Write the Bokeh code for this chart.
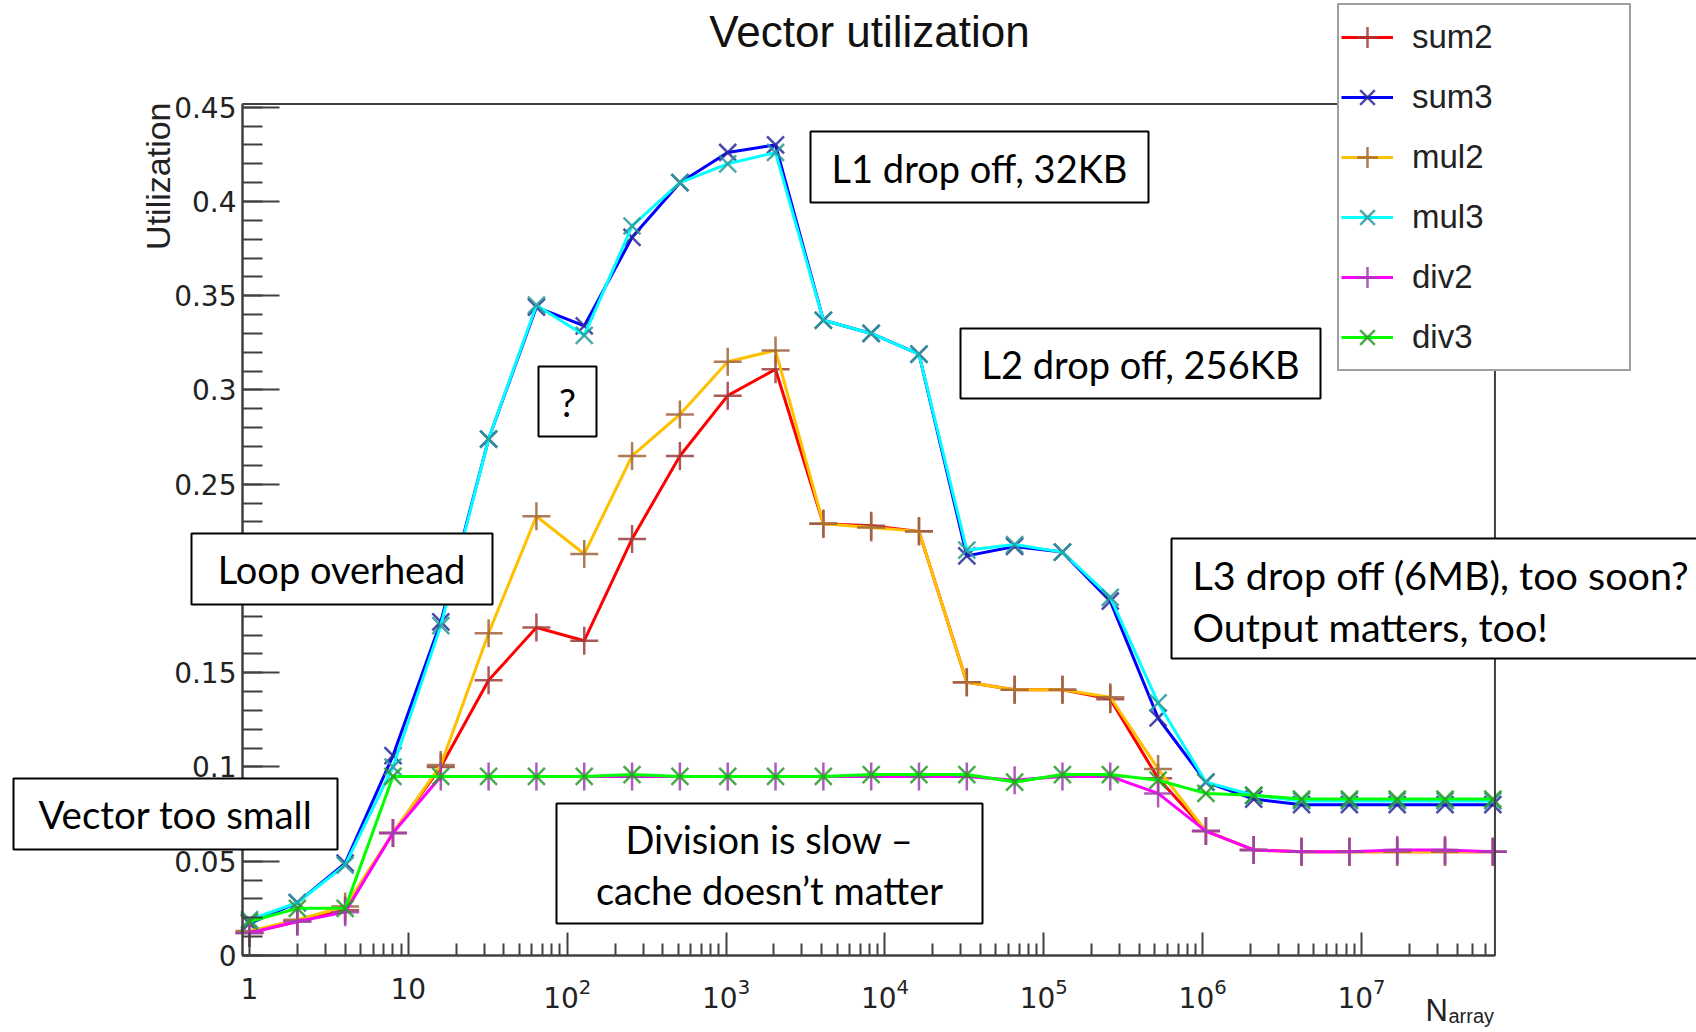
from bokeh.plotting import figure
from bokeh.models import (Range1d, FixedTicker, NumeralTickFormatter, LogTickFormatter,
                          Label, BoxAnnotation, Legend, LegendItem)
from bokeh.embed import file_html
from bokeh.resources import INLINE

# ---------------- data ----------------
n_array = [1, 2, 4, 8, 16, 32, 64, 128, 256, 512, 1024, 2048, 4096, 8192, 16384,
           32768, 65536, 131072, 262144, 524288, 1048576, 2097152, 4194304,
           8388608, 16777216, 33554432, 67108864]

sum2 = [0.012, 0.018, 0.024, 0.065, 0.100, 0.146, 0.174, 0.167, 0.221, 0.265, 0.297, 0.311,
        0.229, 0.228, 0.225, 0.145, 0.141, 0.141, 0.136, 0.094, 0.066, 0.056, 0.055, 0.055,
        0.055, 0.055, 0.055]
sum3 = [0.017, 0.028, 0.049, 0.106, 0.177, 0.274, 0.344, 0.334, 0.381, 0.410, 0.426, 0.430,
        0.337, 0.330, 0.319, 0.212, 0.217, 0.214, 0.188, 0.126, 0.092, 0.083, 0.080, 0.080,
        0.080, 0.080, 0.080]
mul2 = [0.013, 0.019, 0.026, 0.065, 0.101, 0.171, 0.233, 0.213, 0.265, 0.287, 0.315, 0.321,
        0.229, 0.227, 0.225, 0.145, 0.141, 0.141, 0.137, 0.099, 0.066, 0.056, 0.055, 0.055,
        0.055, 0.055, 0.055]
mul3 = [0.019, 0.028, 0.048, 0.100, 0.175, 0.274, 0.345, 0.329, 0.387, 0.410, 0.420, 0.426,
        0.337, 0.330, 0.319, 0.215, 0.218, 0.214, 0.190, 0.134, 0.092, 0.085, 0.082, 0.082,
        0.082, 0.082, 0.082]
div2 = [0.012, 0.018, 0.023, 0.065, 0.095, 0.095, 0.095, 0.095, 0.095, 0.095, 0.095, 0.095,
        0.095, 0.095, 0.095, 0.095, 0.093, 0.095, 0.095, 0.086, 0.066, 0.056, 0.055, 0.055,
        0.056, 0.056, 0.055]
div3 = [0.018, 0.025, 0.025, 0.095, 0.095, 0.095, 0.095, 0.095, 0.096, 0.095, 0.095, 0.095,
        0.095, 0.096, 0.096, 0.096, 0.092, 0.096, 0.096, 0.093, 0.086, 0.085, 0.083, 0.083,
        0.083, 0.083, 0.083]

series_names = ["sum2", "sum3", "mul2", "mul3", "div2", "div3"]
series_values = [sum2, sum3, mul2, mul3, div2, div3]

y_major_ticks = [0, 0.05, 0.1, 0.15, 0.2, 0.25, 0.3, 0.35, 0.4, 0.45]
y_minor_ticks = [i / 100 for i in range(46)]
x_major_ticks = [1, 10, 100, 1000, 10000, 100000, 1000000, 10000000]
x_minor_ticks = [m * d for d in x_major_ticks for m in range(2, 10) if m * d < 7e7]

# axis extent of the ROOT frame (data units)
x_lo, x_hi = 0.9035, 6.92e7
y_lo, y_hi = 0.0, 0.4517

# ---------------- styles ----------------
line_colors = ["#ff0000", "#0000ff", "#ffc000", "#00ffff", "#ff00ff", "#00ff00"]
marker_colors = ["#a03c3c", "#2a2a9a", "#a0643c", "#2a9a9a", "#a040b0", "#2a9a2a"]
marker_types = ["cross", "x", "cross", "x", "cross", "x"]
marker_sizes = [28, 24, 28, 24, 28, 24]

AX = "Liberation Sans"
TICK = "DejaVu Sans"
NOTE = "Lato"
FRAME = "#404040"

W, H = 1696, 1032
# the plotting frame covers the whole canvas; the ROOT-like axes sit at fixed locations
p = figure(width=W, height=H, x_axis_type="log",
           x_range=Range1d(10 ** (-1.56745), 10 ** 9.10882),
           y_range=Range1d(-0.040849, 0.50663),
           output_backend="svg", toolbar_location=None,
           min_border_left=0, min_border_right=0, min_border_top=0, min_border_bottom=0)
p.title.visible = False
p.background_fill_color = "white"
p.border_fill_color = "white"
p.grid.visible = False
p.outline_line_color = None

yax = p.yaxis[0]
yax.fixed_location = x_lo
yax.bounds = (y_lo, y_hi)
yax.ticker = FixedTicker(ticks=y_major_ticks, minor_ticks=y_minor_ticks)
yax.formatter = NumeralTickFormatter(format="0.[00]")
yax.major_tick_in = 37
yax.major_tick_out = 0
yax.minor_tick_in = 20
yax.minor_tick_out = 0
yax.major_label_standoff = 6

xax = p.xaxis[0]
xax.fixed_location = y_lo
xax.bounds = (x_lo, x_hi)
xax.ticker = FixedTicker(ticks=x_major_ticks, minor_ticks=x_minor_ticks)
xax.formatter = LogTickFormatter(min_exponent=1)
xax.major_label_overrides = {1: "1", 10: "10"}
xax.major_tick_in = 23
xax.major_tick_out = 0
xax.minor_tick_in = 12
xax.minor_tick_out = 0
xax.major_label_standoff = 23

for ax in (xax, yax):
    ax.axis_line_color = FRAME
    ax.axis_line_width = 2
    ax.major_tick_line_color = FRAME
    ax.major_tick_line_width = 2
    ax.minor_tick_line_color = FRAME
    ax.minor_tick_line_width = 2
    ax.major_label_text_font = TICK
    ax.major_label_text_font_size = "28px"
    ax.major_label_text_color = "#222222"

items = []
for name, vals, lc, mc, mk, ms in zip(series_names, series_values, line_colors,
                                      marker_colors, marker_types, marker_sizes):
    lr = p.line(n_array, vals, line_color=lc, line_width=3)
    sr = p.scatter(n_array, vals, marker=mk, size=ms, line_color=mc, line_width=2.5,
                   line_alpha=0.85, fill_color=None)
    items.append(LegendItem(label=name, renderers=[lr, sr]))

# ROOT frame box (top and right edges)
p.add_layout(BoxAnnotation(left=x_lo, right=x_hi, bottom=y_lo, top=y_hi,
                           fill_alpha=0, line_color=FRAME, line_width=2, line_alpha=1.0))

# positions below are pixels of the 1696x1032 page, turned into canvas pixels
def fx(x):
    return x

def fy(y):
    return H - y

boxes = [(810, 131, 1148, 202), (960, 328, 1320, 398), (538, 366, 596, 436),
         (191, 533, 492, 604), (1171, 538, 1720, 658), (13, 778, 337, 849),
         (556, 803, 982, 923)]
for (l, t, r, b) in boxes:
    p.add_layout(BoxAnnotation(left=fx(l), right=fx(r), top=fy(t), bottom=fy(b),
                               left_units="screen", right_units="screen",
                               top_units="screen", bottom_units="screen",
                               fill_color="white", fill_alpha=1.0,
                               line_color="black", line_width=2, line_alpha=1.0))

notes = [("L1 drop off, 32KB", 979, 167, "center", 38),
         ("L2 drop off, 256KB", 1140, 363, "center", 38),
         ("?", 567, 401, "center", 38),
         ("Loop overhead", 341, 568, "center", 38),
         ("L3 drop off (6MB), too soon?", 1192, 574, "left", 39.5),
         ("Output matters, too!", 1192, 626, "left", 39.5),
         ("Vector too small", 175, 813, "center", 38.5),
         ("Division is slow \u2013", 769, 838, "center", 38),
         ("cache doesn\u2019t matter", 769, 889, "center", 38)]
for text, x, y, al, fs in notes:
    p.add_layout(Label(x=fx(x), y=fy(y), x_units="screen", y_units="screen", text=text,
                       text_align=al, text_baseline="middle", text_font=NOTE,
                       text_font_size=f"{fs}px", text_color="black"))

# title and axis titles
p.add_layout(Label(x=fx(869), y=fy(31), x_units="screen", y_units="screen",
                   text="Vector utilization", text_align="center", text_baseline="alphabetic",
                   text_font=AX, text_font_size="44px", text_color="#111111"))
p.add_layout(Label(x=fx(157), y=fy(102), x_units="screen", y_units="screen",
                   text="Utilization", angle=1.5707963, text_align="right",
                   text_baseline="alphabetic", text_font=AX, text_font_size="34px",
                   text_color="#222222"))
p.add_layout(Label(x=fx(1425), y=fy(1010), x_units="screen", y_units="screen",
                   text="N", text_align="left", text_baseline="alphabetic",
                   text_font=AX, text_font_size="31px", text_color="#222222"))
p.add_layout(Label(x=fx(1448), y=fy(1015), x_units="screen", y_units="screen",
                   text="array", text_align="left", text_baseline="alphabetic",
                   text_font=AX, text_font_size="20px", text_color="#222222"))

legend = Legend(items=items, location=(fx(1337), fy(371)),
                glyph_width=52, glyph_height=60, label_height=60, spacing=0,
                padding=2, margin=0, label_standoff=19, label_width=215,
                label_text_font=AX, label_text_font_size="33px", label_text_color="#222222",
                border_line_color=FRAME, border_line_width=2,
                background_fill_color="white", background_fill_alpha=1.0)
p.add_layout(legend)

open("out.html", "w").write(file_html(p, INLINE))
